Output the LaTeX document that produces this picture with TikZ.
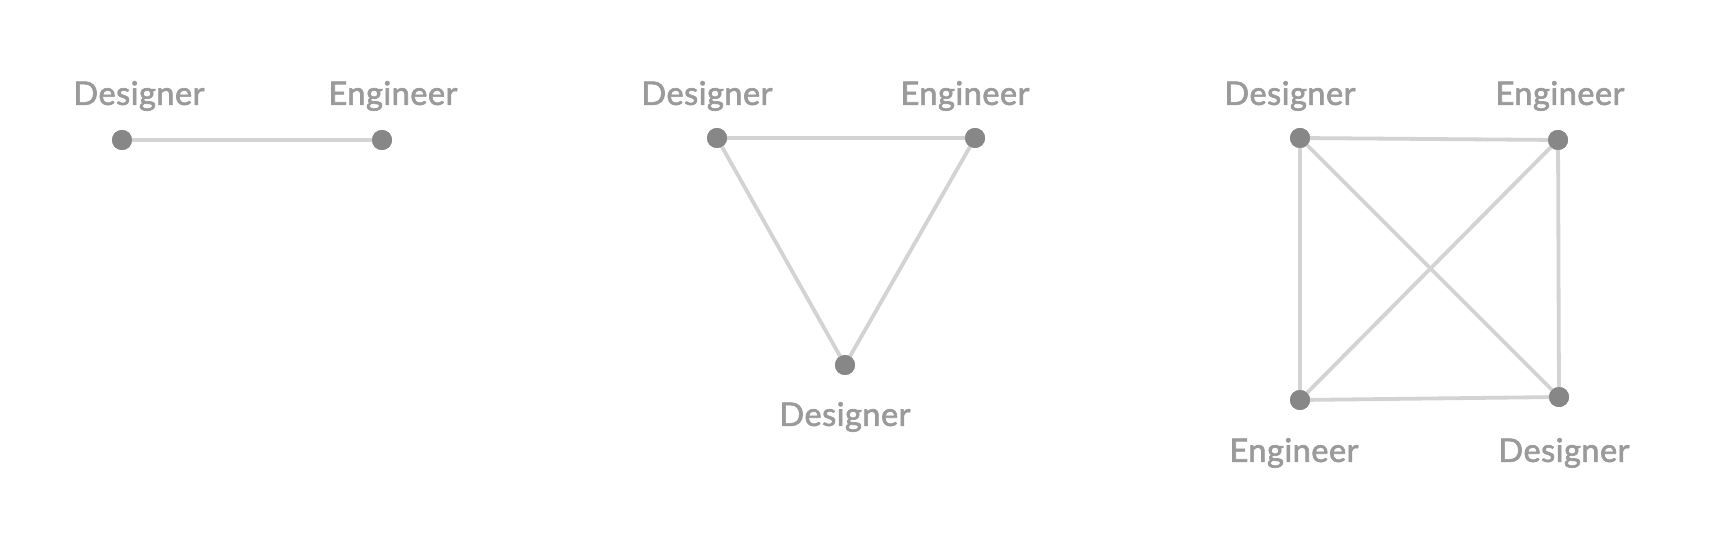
\documentclass[tikz,border=0pt]{standalone}
\usepackage{fontspec}
\setmainfont{Lato}
\begin{document}
\begin{tikzpicture}[x=1pt,y=-1pt,
  dot/.style={circle,fill=dotgray,inner sep=0pt,minimum size=20pt},
  lbl/.style={text=txtgray,font=\fontsize{32.5}{34}\selectfont\addfontfeature{FakeBold=2}\addfontfeature{LetterSpace=1.5},inner sep=0pt,anchor=center},
  edge/.style={draw=linegray,line width=3.8pt}]
\definecolor{dotgray}{HTML}{878787}
\definecolor{linegray}{HTML}{D3D3D3}
\definecolor{txtgray}{HTML}{9A9A9A}
\useasboundingbox[fill=white] (0,0) rectangle (1726,556);
% left
\node[dot] (a1) at (122,140) {};
\node[dot] (a2) at (382,140) {};
\node[lbl] (la1) at (139,96) {Designer};
\node[lbl] (la2) at (393,96) {Engineer};
% middle
\node[dot] (b1) at (717,138) {};
\node[dot] (b2) at (975,138) {};
\node[dot] (b3) at (845,365) {};
\node[lbl] (lb1) at (707,96) {Designer};
\node[lbl] (lb2) at (965,96) {Engineer};
\node[lbl] (lb3) at (845,417) {Designer};
% right
\node[dot] (c1) at (1300,138) {};
\node[dot] (c2) at (1558,140) {};
\node[dot] (c3) at (1300,400) {};
\node[dot] (c4) at (1559,397) {};
\node[lbl] (lc1) at (1290,96) {Designer};
\node[lbl] (lc2) at (1560,96) {Engineer};
\node[lbl] (lc3) at (1294,453) {Engineer};
\node[lbl] (lc4) at (1564,453) {Designer};
\path[edge] (a1.center) -- (a2.center);
\path[edge] (b1.center) -- (b2.center) -- (b3.center) -- cycle;
\path[edge] (c1.center) -- (c2.center) -- (c4.center) -- (c3.center) -- cycle;
\path[edge] (c1.center) -- (c4.center);
\path[edge] (c2.center) -- (c3.center);
\foreach \n in {a1,a2,b1,b2,b3,c1,c2,c3,c4} \fill[dotgray] (\n) circle (10pt);
\end{tikzpicture}
\end{document}
